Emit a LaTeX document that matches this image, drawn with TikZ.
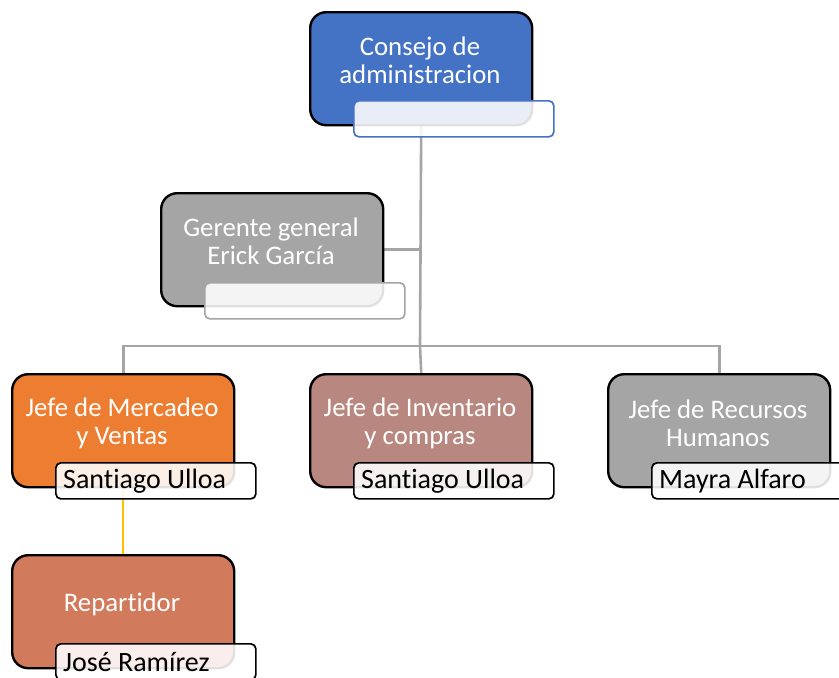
\documentclass[tikz,border=0pt]{standalone}
\usepackage{fontspec}
\setmainfont[Ligatures=NoCommon]{Carlito}
\usetikzlibrary{backgrounds}
\definecolor{cblue}{HTML}{4472C4}
\definecolor{cgray}{HTML}{A5A5A5}
\definecolor{corange}{HTML}{ED7D31}
\definecolor{cbrown}{HTML}{B8877F}
\definecolor{cterra}{HTML}{D27B5C}
\definecolor{cline}{HTML}{A5A5A5}
\definecolor{cyellow}{HTML}{FFC000}
\begin{document}
\begin{tikzpicture}[x=1pt,y=-1pt,
  mainbox/.style={draw=black,line width=2.4pt,rounded corners=16pt,anchor=north west,
    minimum width=222pt,minimum height=113pt,inner sep=0pt},
  namebox/.style={draw=black,line width=1.7pt,rounded corners=5pt,anchor=north west,
    minimum width=200pt,minimum height=36pt,inner sep=0pt,fill=white,fill opacity=0.88,
    text opacity=1},
  maintext/.style={text=white,font=\fontsize{26.8}{28}\selectfont,align=center,inner sep=0pt},
  nametext/.style={text=black,font=\fontsize{28}{28}\selectfont,anchor=west,inner sep=0pt},
  conn/.style={draw=cline,line width=2.6pt}]
\useasboundingbox (0,0) rectangle (839,678);
% main boxes
\node[mainbox,fill=cblue] (c) at (309,11) {};
\node[mainbox,fill=cgray] (g) at (160,192) {};
\node[mainbox,fill=corange] (m) at (11,373) {};
\node[mainbox,fill=cbrown] (i) at (309,373) {};
\node[mainbox,fill=cgray] (h) at (607,373) {};
\node[mainbox,fill=cterra] (r) at (11,554) {};
% texts
\node[maintext] (ct) at (420,60) {Consejo de\\administracion};
\node[maintext] (gt) at (271,241) {Gerente general\\Erick García};
\node[maintext] (mt) at (122,423) {Jefe de Mercadeo\\y Ventas};
\node[maintext] (it) at (420,423) {Jefe de Inventario\\y compras};
\node[maintext] (ht) at (718,423) {Jefe de Recursos\\Humanos};
\node[maintext] (rt) at (122,604) {Repartidor};
% name boxes
\node[namebox,draw=cblue] (cn) at (353,100) {};
\node[namebox,draw=cgray] (gn) at (204,282) {};
\node[namebox] (mn) at (55,462) {};
\node[namebox] (in) at (353,462) {};
\node[namebox] (hn) at (651,462) {};
\node[namebox] (rn) at (55,643) {};
\node[nametext] (mnt) at (63,481) {Santiago Ulloa};
\node[nametext] (int) at (361,481) {Santiago Ulloa};
\node[nametext] (hnt) at (659,481) {Mayra Alfaro};
\node[nametext] (rnt) at (63,662) {José Ramírez};
% connectors
\coordinate (bus) at (420,346);
\begin{scope}[on background layer]
\draw[conn] (c.south) -- (bus);
\draw[conn] (g.east) -- (g.east -| c.south);
\draw[conn] (m.north) -- (m.north |- bus) -- (h.north |- bus) -- (h.north);
\draw[conn] (bus) -- (i.north);
\draw[draw=cyellow,line width=2.4pt] (m.south) -- (r.north);
\end{scope}
\end{tikzpicture}
\end{document}
